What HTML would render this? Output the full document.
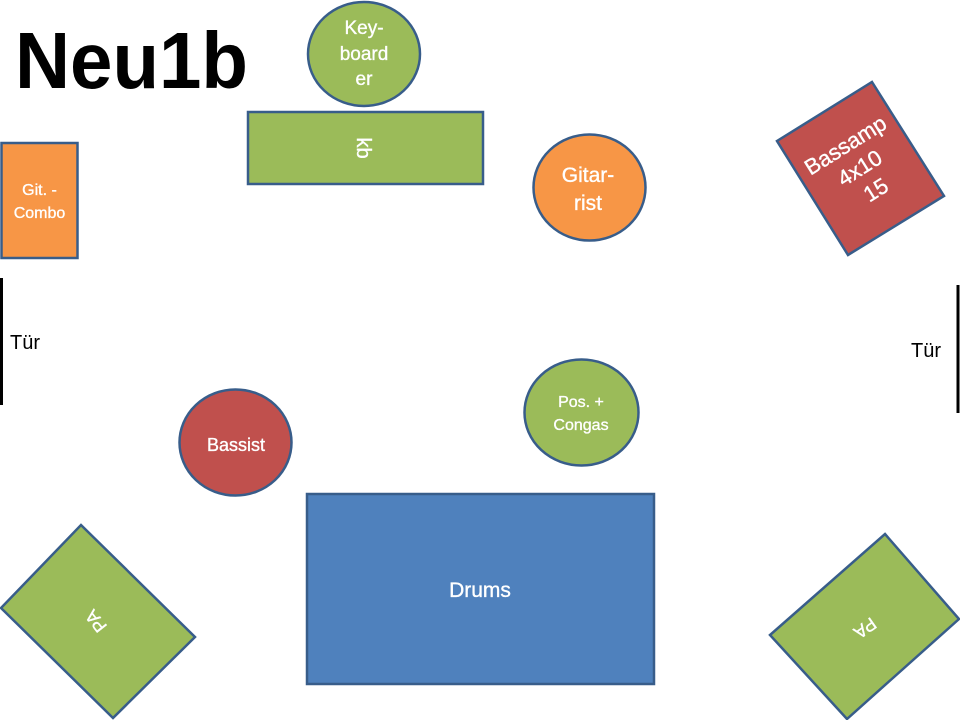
<!DOCTYPE html>
<html>
<head>
<meta charset="utf-8">
<style>
  html, body { margin: 0; padding: 0; background: #ffffff; }
  body { width: 960px; height: 720px; overflow: hidden; }
  svg { display: block; }
  text { font-family: "Liberation Sans", "DejaVu Sans", sans-serif; fill: #ffffff; }
  .w { stroke: #ffffff; stroke-width: 0.35; }
</style>
</head>
<body>
<svg width="960" height="720" viewBox="0 0 960 720" xmlns="http://www.w3.org/2000/svg">
  <rect x="0" y="0" width="960" height="720" fill="#ffffff"/>

  <!-- Title -->
  <text x="15" y="88" font-size="80" font-weight="bold" style="fill:#000000" textLength="233" lengthAdjust="spacingAndGlyphs">Neu1b</text>

  <!-- Keyboarder circle -->
  <ellipse cx="364" cy="54" rx="56" ry="52" fill="#9BBB59" stroke="#385D8A" stroke-width="2.5"/>
  <text class="w" x="364" y="34" font-size="19" text-anchor="middle">Key-</text>
  <text class="w" x="364" y="60" font-size="19" text-anchor="middle">board</text>
  <text class="w" x="364" y="85" font-size="19" text-anchor="middle">er</text>

  <!-- kb rect -->
  <rect x="248" y="112" width="235" height="72" fill="#9BBB59" stroke="#385D8A" stroke-width="2.5"/>
  <g transform="translate(364,148) rotate(90)">
    <text class="w" x="0" y="7" font-size="20" text-anchor="middle">kb</text>
  </g>

  <!-- Git. - Combo -->
  <rect x="1.5" y="143" width="76" height="115" fill="#F79646" stroke="#385D8A" stroke-width="2.5"/>
  <text class="w" x="39.5" y="195" font-size="16" text-anchor="middle">Git. -</text>
  <text class="w" x="39.5" y="218" font-size="16" text-anchor="middle">Combo</text>

  <!-- Gitarrist -->
  <ellipse cx="589.5" cy="187.5" rx="56" ry="53" fill="#F79646" stroke="#385D8A" stroke-width="2.5"/>
  <text class="w" x="588" y="182" font-size="21" text-anchor="middle">Gitar-</text>
  <text class="w" x="588" y="210" font-size="21" text-anchor="middle">rist</text>

  <!-- Bassamp -->
  <polygon points="872,82 944,196 848,255 777,141" fill="#C0504D" stroke="#385D8A" stroke-width="2.5" stroke-linejoin="miter"/>
  <g transform="translate(860,168.5) rotate(-32)">
    <text class="w" x="0" y="-20" font-size="22" text-anchor="middle">Bassamp</text>
    <text class="w" x="0" y="7" font-size="22" text-anchor="middle">4x10</text>
    <text class="w" x="2" y="34" font-size="22" text-anchor="middle">15</text>
  </g>

  <!-- Doors -->
  <line x1="1.5" y1="278" x2="1.5" y2="405" stroke="#000000" stroke-width="3"/>
  <text x="10" y="349" font-size="20" style="fill:#000000">Tür</text>
  <line x1="958" y1="285" x2="958" y2="413" stroke="#000000" stroke-width="3"/>
  <text x="911" y="357" font-size="20" style="fill:#000000">Tür</text>

  <!-- Pos. + Congas -->
  <ellipse cx="581.5" cy="412.5" rx="57" ry="53" fill="#9BBB59" stroke="#385D8A" stroke-width="2.5"/>
  <text class="w" x="581" y="407" font-size="16" text-anchor="middle">Pos. +</text>
  <text class="w" x="581" y="430" font-size="16" text-anchor="middle">Congas</text>

  <!-- Bassist -->
  <ellipse cx="235.5" cy="442.5" rx="56" ry="53" fill="#C0504D" stroke="#385D8A" stroke-width="2.5"/>
  <text class="w" x="236" y="451" font-size="18" text-anchor="middle">Bassist</text>

  <!-- Drums -->
  <rect x="307" y="494" width="347" height="190" fill="#4F81BD" stroke="#385D8A" stroke-width="2.5"/>
  <text class="w" x="480" y="597" font-size="21" text-anchor="middle">Drums</text>

  <!-- Left PA -->
  <polygon points="81,525 195,637 113,718 1,608" fill="#9BBB59" stroke="#385D8A" stroke-width="2.5"/>
  <g transform="translate(96,621) rotate(232)">
    <text class="w" x="0" y="6" font-size="18" text-anchor="middle">PA</text>
  </g>

  <!-- Right PA -->
  <polygon points="885,534 959,619 847,719 770,635" fill="#9BBB59" stroke="#385D8A" stroke-width="2.5"/>
  <g transform="translate(865,628) rotate(145)">
    <text class="w" x="0" y="6" font-size="18" text-anchor="middle">PA</text>
  </g>
</svg>
</body>
</html>
